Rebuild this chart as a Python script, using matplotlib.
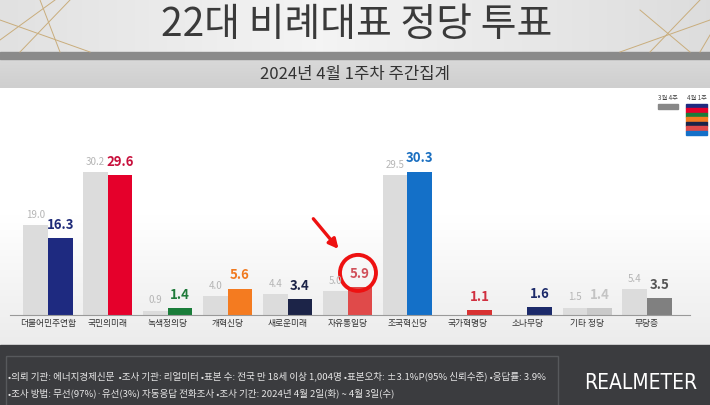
import numpy as np
import matplotlib.pyplot as plt
from matplotlib.patches import Rectangle, Ellipse
from matplotlib.colors import LinearSegmentedColormap

plt.rcParams['font.family'] = ['Noto Sans CJK KR', 'DejaVu Sans']

# 데이터
parties = ['더불어민주연합', '국민의미래', '녹색정의당', '개혁신당', '새로운미래', '자유통일당',
           '조국혁신당', '국가혁명당', '소나무당', '기타 정당', '무당층']
prev = [19.0, 30.2, 0.9, 4.0, 4.4, 5.0, 29.5, None, None, 1.5, 5.4]
curr = [16.3, 29.6, 1.4, 5.6, 3.4, 5.9, 30.3, 1.1, 1.6, 1.4, 3.5]
bar_colors = ['#1e2a80', '#e5002b', '#1a7d3a', '#f47b20', '#1c2448', '#e04a4a',
              '#1470c8', '#d83232', '#1c2a6a', '#cacaca', '#808080']
text_colors = ['#1e2a78', '#c8103c', '#1f7a3a', '#f07a20', '#1c2448', '#d0505a',
               '#1a6fc0', '#d03040', '#1c2a6a', '#c4c4c4', '#555555']
prev_color = '#dcdcdc'
legend_prev = '3월 4주'
legend_curr = '4월 1주'

title = '22대 비례대표 정당 투표'
subtitle = '2024년 4월 1주차 주간집계'
footer1 = '•의뢰 기관: 에너지경제신문  •조사 기관: 리얼미터 •표본 수: 전국 만 18세 이상 1,004명 •표본오차: ±3.1%P(95% 신뢰수준) •응답률: 3.9%'
footer2 = '•조사 방법: 무선(97%)·유선(3%) 자동응답 전화조사 •조사 기간: 2024년 4월 2일(화) ~ 4월 3일(수)'

fig = plt.figure(figsize=(7.1, 4.05), dpi=100)

# 배경 (픽셀 좌표)
bg = fig.add_axes([0, 0, 1, 1])
bg.axis('off')

head = np.linspace(0, 1, 200)
head = 1 - np.abs(head - 0.45) * 1.4
bg.imshow(np.tile(head, (10, 1)), extent=(0, 710, 52, 0), aspect='auto',
          cmap=LinearSegmentedColormap.from_list('h', ['#d6d6d6', '#f4f4f4']), vmin=0, vmax=1)
# 금색 선 장식
for x0, y0, x1, y1 in [(0, 40, 55, 0), (20, 52, 70, 0), (60, 52, 40, 0), (0, 20, 90, 52),
                       (650, 52, 700, 0), (690, 52, 640, 10), (620, 52, 710, 20), (700, 52, 710, 35)]:
    bg.plot([x0, x1], [y0, y1], color='#c9ad7c', lw=0.7)
bg.add_patch(Rectangle((0, 52), 710, 7, color='#8a8a8a'))
bg.imshow(np.linspace(0, 1, 30).reshape(-1, 1), extent=(0, 710, 88, 59), aspect='auto',
          cmap=LinearSegmentedColormap.from_list('s', ['#d9d9d9', '#cfcfcf']))
bg.imshow(np.linspace(0, 1, 100).reshape(-1, 1), extent=(0, 710, 345, 88), aspect='auto',
          cmap=LinearSegmentedColormap.from_list('c', ['#ffffff', '#ffffff', '#ececec']))
bg.add_patch(Rectangle((0, 345), 710, 60, color='#3b3c3f'))
bg.add_patch(Rectangle((6, 356), 552, 60, fill=False, ec='#57595c', lw=1))
bg.set_xlim(0, 710)
bg.set_ylim(405, 0)

bg.text(357, 25, title, ha='center', va='center', fontsize=28, color='#3a3a3a')
bg.text(355, 75, subtitle, ha='center', va='center', fontsize=12, color='#333333')
bg.text(8, 376, footer1, ha='left', va='center', fontsize=6.9, color='#e6e6e6')
bg.text(8, 393, footer2, ha='left', va='center', fontsize=6.9, color='#e6e6e6')
bg.text(641, 383, 'REALMETER', ha='center', va='center', fontsize=15, color='white',
        family='DejaVu Sans', fontstretch='condensed', fontweight='light')

# 범례
bg.text(668, 98, legend_prev, ha='center', va='center', fontsize=4.5, color='#444444')
bg.text(697, 98, legend_curr, ha='center', va='center', fontsize=4.5, color='#444444')
bg.add_patch(Rectangle((658, 104), 20, 5, color='#888888'))
stripe_h = 31 / 7
for k, c in enumerate(bar_colors[:7]):
    bg.add_patch(Rectangle((686, 104 + k * stripe_h), 21, stripe_h, color=c))

# 차트
scale = 4.73
ax = fig.add_axes([10 / 710, 90 / 405, 680 / 710, 200 / 405])
ax.patch.set_alpha(0)
x = np.arange(len(parties))
w = 0.41

px = [i for i, v in enumerate(prev) if v is not None]
pv = [prev[i] for i in px]
ax.bar(np.array(px) - w / 2, pv, w, color=prev_color)
ax.bar(x + w / 2, curr, w, color=bar_colors)

for i, v in zip(px, pv):
    ax.annotate(f'{v:.1f}', (i - w / 2, v), xytext=(0, 7.5), textcoords='offset points',
                ha='center', va='center', fontsize=7, color='#b5b5b5')
for i, v in enumerate(curr):
    ax.annotate(f'{v:.1f}', (i + w / 2, v), xytext=(0, 9.5), textcoords='offset points',
                ha='center', va='center', fontsize=9.5, fontweight='bold', color=text_colors[i])

# 강조 (자유통일당)
ax.add_patch(Ellipse((5 + w / 2 - 0.03, curr[5] + 3.0), 36 / 59.9, 36 / scale,
                     fill=False, ec='#ee1111', lw=2.8))
ax.annotate('', xy=(4.88, 13.5), xytext=(4.40, 20.8),
            arrowprops=dict(arrowstyle='-|>', color='#ee1111', lw=2.4, mutation_scale=14))

ax.set_xlim(-38 / 59.9, 642 / 59.9)
ax.set_ylim(0, 200 / scale)
ax.set_xticks(x, parties, fontsize=6.3, color='#333333')
ax.tick_params(axis='x', length=0, pad=3)
ax.set_yticks([])
for s in ['top', 'left', 'right']:
    ax.spines[s].set_visible(False)
ax.spines['bottom'].set_color('#999999')

fig.savefig('out.png', dpi=100)
